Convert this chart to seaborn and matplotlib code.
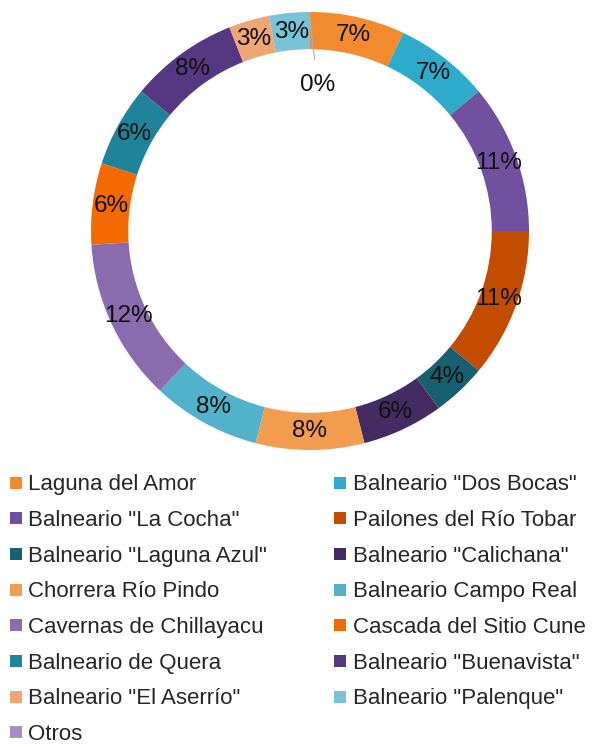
"""
Donut chart of visitor share by tourist site.
"""
import numpy as np
import matplotlib
matplotlib.use('Agg')
import matplotlib.pyplot as plt
from matplotlib.lines import Line2D
import seaborn as sns

# data
sites = ['Laguna del Amor', 'Balneario "Dos Bocas"', 'Balneario "La Cocha"',
         'Pailones del Río Tobar', 'Balneario "Laguna Azul"', 'Balneario "Calichana"',
         'Chorrera Río Pindo', 'Balneario Campo Real', 'Cavernas de Chillayacu',
         'Cascada del Sitio Cune', 'Balneario de Quera', 'Balneario "Buenavista"',
         'Balneario "El Aserrío"', 'Balneario "Palenque"', 'Otros']
shares = [7, 7, 11, 11, 4, 6, 8, 8, 12, 6, 6, 8, 3, 3, 0]
colors = ['#F28A2E', '#2EAACB', '#7150A0', '#C24C00', '#17606F', '#442C62',
          '#F29C4E', '#52B2CC', '#8A6BAE', '#F56A00', '#1F849B', '#563882',
          '#EFA574', '#78C3D8', '#A58EC4']

sns.set_style('white')
plt.rcParams['font.family'] = ['Liberation Sans', 'DejaVu Sans']

fig = plt.figure(figsize=(5.96, 7.47), dpi=100)
ax = fig.add_axes([91/596, 1 - 450/747, 438/596, 438/747])

wedges, _ = ax.pie(shares, colors=colors, startangle=90, counterclock=False,
                   radius=1, wedgeprops=dict(width=0.17, linewidth=0))
ax.set_xlim(-1, 1)
ax.set_ylim(-1, 1)
ax.set_aspect('equal')
ax.axis('off')

# percentage labels in the middle of the ring
for w, v in zip(wedges, shares):
    ang = np.deg2rad((w.theta1 + w.theta2) / 2)
    if v > 0:
        ax.text(0.915 * np.cos(ang), 0.915 * np.sin(ang), f'{v}%',
                ha='center', va='center', fontsize=17.5, color='#111111')
    else:
        ax.annotate(f'{v}%', xy=(0.0, 0.96), xytext=(0.035, 0.667),
                    ha='center', va='center', fontsize=17.5, color='#111111',
                    arrowprops=dict(arrowstyle='-', color='#8EB4E3', lw=0.8,
                                    shrinkA=8, shrinkB=0))

handles = [Line2D([0], [0], marker='s', linestyle='none', markersize=8,
                  markerfacecolor=c, markeredgewidth=0) for c in colors]
order = list(range(0, len(sites), 2)) + list(range(1, len(sites), 2))
fig.legend([handles[i] for i in order], [sites[i] for i in order],
           ncol=2, loc='upper left', bbox_to_anchor=(5/596, 1 - 470/747),
           frameon=False, fontsize=16, handlelength=0.55, handletextpad=0.3,
           labelspacing=0.66, columnspacing=3.0, borderaxespad=0, borderpad=0.2)

plt.savefig('out.png', dpi=100)
